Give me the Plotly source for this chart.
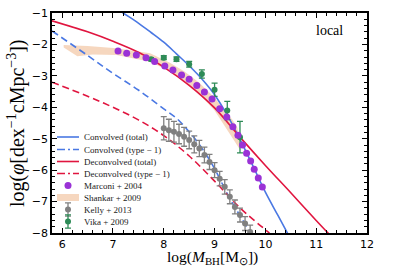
import plotly.graph_objects as go

# ---------------- data ----------------
conv_tot_x = [7.0, 7.2, 7.5, 7.75, 8.0, 8.25, 8.5, 8.75, 9.0, 9.25, 9.5, 9.75, 10.0, 10.25, 10.5]
conv_tot_y = [-0.78, -1.0, -1.32, -1.62, -1.93, -2.3, -2.68, -3.1, -3.6, -4.25, -5.02, -5.85, -6.7, -7.45, -8.2]

conv_t1_x = [5.8, 6.5, 7.0, 7.5, 8.0, 8.25, 8.5, 8.75, 9.0, 9.25, 9.5, 9.75]
conv_t1_y = [-1.57, -2.35, -2.92, -3.45, -4.05, -4.35, -4.78, -5.3, -5.95, -6.75, -7.45, -8.1]

deconv_tot_x = [5.8, 6.5, 7.0, 7.5, 8.0, 8.5, 9.0, 9.5, 10.0, 10.5, 11.0, 11.25]
deconv_tot_y = [-1.25, -1.6, -1.9, -2.25, -2.72, -3.3, -4.02, -4.95, -5.85, -6.72, -7.6, -8.03]

deconv_t1_x = [5.8, 6.5, 7.0, 7.5, 8.0, 8.5, 9.0, 9.5, 10.08]
deconv_t1_y = [-3.2, -3.65, -4.0, -4.4, -4.9, -5.55, -6.35, -7.2, -8.0]

marconi_x = [7.10, 7.27, 7.46, 7.65, 7.82, 8.02, 8.18, 8.35, 8.50, 8.65, 8.80, 8.95,
             9.10, 9.24, 9.36, 9.46, 9.55, 9.63, 9.71, 9.78, 9.86, 9.94]
marconi_y = [-2.21, -2.28, -2.34, -2.42, -2.54, -2.69, -2.81, -2.97, -3.11, -3.31, -3.51, -3.74,
             -4.05, -4.31, -4.62, -4.89, -5.2, -5.46, -5.71, -5.97, -6.25, -6.54]

shankar_hi_x = [6.03, 6.5, 7.07, 7.73, 8.12, 8.4, 8.7, 9.0, 9.2, 9.35, 9.45]
shankar_hi = [-2.02, -2.05, -2.12, -2.28, -2.58, -2.85, -3.22, -3.7, -4.1, -4.4, -4.65]
shankar_lo_x = [6.03, 6.3, 6.6, 7.07, 7.73, 8.12, 8.4, 8.7, 9.0, 9.2, 9.4, 9.5]
shankar_lo = [-2.1, -2.38, -2.32, -2.34, -2.55, -2.85, -3.15, -3.58, -4.1, -4.6, -5.1, -5.35]

kelly_x = [8.0, 8.1, 8.2, 8.3, 8.4, 8.5, 8.6, 8.7, 8.8, 8.9, 9.0, 9.1, 9.2, 9.3, 9.4, 9.5, 9.6, 9.7]
kelly_y = [-4.67, -4.73, -4.78, -4.85, -4.94, -5.04, -5.18, -5.31, -5.52, -5.74, -6.0, -6.27,
           -6.53, -6.85, -7.17, -7.43, -7.7, -7.97]
kelly_err = [0.37, 0.35, 0.33, 0.31, 0.3, 0.28, 0.27, 0.26, 0.25, 0.24, 0.24, 0.23,
             0.23, 0.22, 0.22, 0.22, 0.22, 0.22]

vika_x = [7.75, 8.0, 8.25, 8.5, 8.75, 9.0, 9.25, 9.5]
vika_y = [-2.47, -2.42, -2.47, -2.63, -2.94, -3.44, -4.1, -4.95]
vika_err = [0.05, 0.06, 0.07, 0.09, 0.13, 0.21, 0.29, 0.5]

legend_labels = ["Convolved (total)", "Convolved (type − 1)", "Deconvolved (total)",
                 "Deconvolved (type − 1)", "Marconi + 2004", "Shankar + 2009",
                 "Kelly + 2013", "Vika + 2009"]

x_ticks = [6, 7, 8, 9, 10, 11, 12]
y_ticks = [-8, -7, -6, -5, -4, -3, -2, -1]

x_title = "log(<i>M</i><sub>BH</sub>[M<sub>⊙</sub>])"
y_title = "log(<i>φ</i>[dex<sup>−1</sup>cMpc<sup>−3</sup>])"

# ---------------- styles ----------------
BLUE = "#4a78e3"
RED = "#e0153f"
PURPLE = "#9a32d6"
GREEN = "#2e8b57"
GRAY = "#808080"
PEACH = "rgba(240,188,148,0.6)"
SERIF = "Liberation Serif"
DASH = "7px,4px"

fig = go.Figure()

# Shankar band
fig.add_trace(go.Scatter(
    x=shankar_hi_x + shankar_lo_x[::-1], y=shankar_hi + shankar_lo[::-1],
    fill="toself", fillcolor=PEACH, mode="lines", line=dict(width=0),
    showlegend=False, hoverinfo="skip"))

# model curves
fig.add_trace(go.Scatter(x=conv_tot_x, y=conv_tot_y, mode="lines",
                         line=dict(color=BLUE, width=1.6, shape="spline"), showlegend=False))
fig.add_trace(go.Scatter(x=conv_t1_x, y=conv_t1_y, mode="lines",
                         line=dict(color=BLUE, width=1.6, dash=DASH, shape="spline"), showlegend=False))
fig.add_trace(go.Scatter(x=deconv_tot_x, y=deconv_tot_y, mode="lines",
                         line=dict(color=RED, width=1.6, shape="spline"), showlegend=False))
fig.add_trace(go.Scatter(x=deconv_t1_x, y=deconv_t1_y, mode="lines",
                         line=dict(color=RED, width=1.6, dash=DASH, shape="spline"), showlegend=False))

# Kelly
fig.add_trace(go.Scatter(x=kelly_x, y=kelly_y, mode="markers",
                         marker=dict(color=GRAY, size=6),
                         error_y=dict(type="data", array=kelly_err, color=GRAY, thickness=1.3, width=3),
                         showlegend=False))
# Vika
fig.add_trace(go.Scatter(x=vika_x, y=vika_y, mode="markers",
                         marker=dict(color=GREEN, size=6),
                         error_y=dict(type="data", array=vika_err, color=GREEN, thickness=1.3, width=3),
                         showlegend=False))
# Marconi
fig.add_trace(go.Scatter(x=marconi_x, y=marconi_y, mode="markers",
                         marker=dict(color=PURPLE, size=7), showlegend=False))

# ---------------- manual legend (compact, like the reference) ----------------
L, R, T, B = 52, 32, 13, 33
W, H = 399, 266
pw, ph = W - L - R, H - T - B


def px(xp):
    return (xp - L) / pw


def py(yp):
    return (T + ph - yp) / ph


rows = [137, 149.5, 161.5, 173.5, 185.5, 197.5, 209.5, 221.5]
gx0, gx1, gmid, tx = px(57), px(79), px(68), px(82)

line_styles = [(BLUE, "solid"), (BLUE, "dashdot"), (RED, "solid"), (RED, "dashdot")]
for i, (c, d) in enumerate(line_styles):
    fig.add_trace(go.Scatter(x=[gx0, gx1], y=[py(rows[i])] * 2, mode="lines",
                             line=dict(color=c, width=1.6, dash=d if d == "solid" else "8px,3px,2px,3px"),
                             xaxis="x2", yaxis="y2", showlegend=False, hoverinfo="skip"))
fig.add_trace(go.Scatter(x=[gmid], y=[py(rows[4])], mode="markers",
                         marker=dict(color=PURPLE, size=7), xaxis="x2", yaxis="y2",
                         showlegend=False, hoverinfo="skip"))
fig.add_shape(type="rect", xref="x2", yref="y2", x0=gx0, x1=gx1,
              y0=py(rows[5] + 3.5), y1=py(rows[5] - 3.5), fillcolor=PEACH, line=dict(width=0))
fig.add_trace(go.Scatter(x=[gmid], y=[py(rows[6])], mode="markers",
                         marker=dict(color=GRAY, size=6),
                         error_y=dict(type="constant", value=0.03, color=GRAY, thickness=1.3, width=3),
                         xaxis="x2", yaxis="y2", showlegend=False, hoverinfo="skip"))
fig.add_trace(go.Scatter(x=[gmid], y=[py(rows[7])], mode="markers",
                         marker=dict(color=GREEN, size=6),
                         error_y=dict(type="constant", value=0.03, color=GREEN, thickness=1.3, width=3),
                         xaxis="x2", yaxis="y2", showlegend=False, hoverinfo="skip"))

annotations = []
for lab, r in zip(legend_labels, rows):
    annotations.append(dict(x=tx, y=py(r), xref="paper", yref="paper", text=lab,
                            showarrow=False, xanchor="left", yanchor="middle",
                            font=dict(family=SERIF, size=9, color="#222")))
annotations.append(dict(x=px(329.5), y=py(30), xref="paper", yref="paper", text="local",
                        showarrow=False, xanchor="center", yanchor="middle",
                        font=dict(family=SERIF, size=14, color="black")))
# axis titles
annotations.append(dict(x=px(212), y=py(257), xref="paper", yref="paper", text=x_title,
                        showarrow=False, xanchor="center", yanchor="middle", borderpad=0,
                        font=dict(family=SERIF, size=15.5, color="black")))
annotations.append(dict(x=px(16), y=py(123), xref="paper", yref="paper", text=y_title,
                        showarrow=False, xanchor="center", yanchor="middle", textangle=-90,
                        font=dict(family=SERIF, size=20, color="black")))

axis_common = dict(showline=True, linecolor="black", linewidth=1.8, mirror="allticks",
                   ticks="inside", ticklen=5, tickwidth=1.2, tickcolor="black",
                   showgrid=False, zeroline=False, automargin=False,
                   tickfont=dict(family="DejaVu Sans", size=11, color="black"))

fig.update_layout(
    width=W, height=H,
    margin=dict(l=L, r=R, t=T, b=B),
    paper_bgcolor="white", plot_bgcolor="white",
    showlegend=False,
    xaxis=dict(range=[5.8, 12], tickvals=x_ticks, ticktext=[str(v) for v in x_ticks],
               minor=dict(ticks="inside", ticklen=3, dtick=0.2, tickcolor="black", tickwidth=1),
               **axis_common),
    yaxis=dict(range=[-8, -1], tickvals=y_ticks, ticktext=["−" + str(abs(v)) for v in y_ticks],
               minor=dict(ticks="inside", ticklen=3, dtick=0.2, tickcolor="black", tickwidth=1),
               **axis_common),
    xaxis2=dict(overlaying="x", range=[0, 1], visible=False, fixedrange=True),
    yaxis2=dict(overlaying="y", range=[0, 1], visible=False, fixedrange=True),
    annotations=annotations,
)

fig.write_html("out.html", config={"displayModeBar": False},
               post_script="document.body.style.margin='0px';")
